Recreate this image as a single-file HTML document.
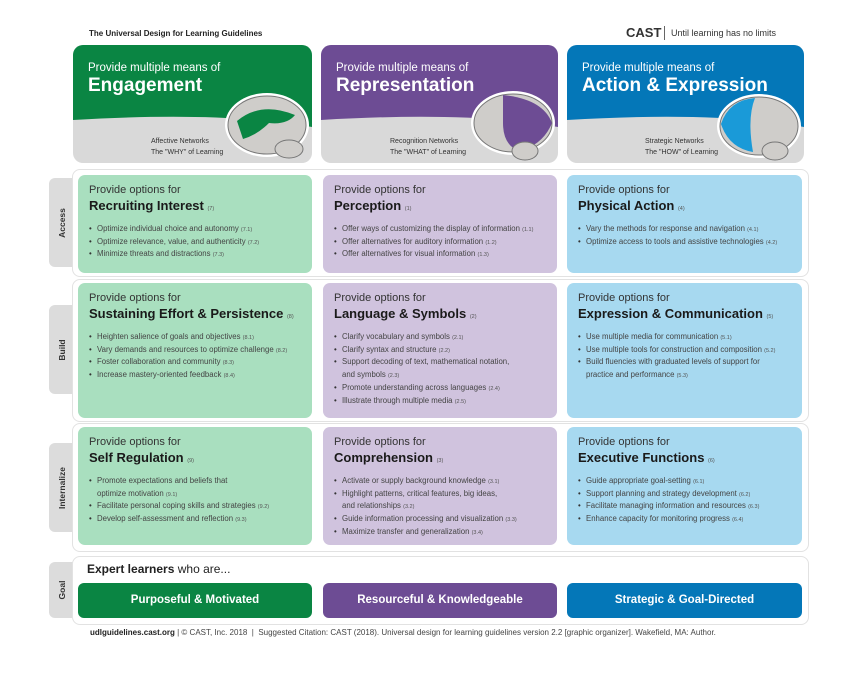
<!DOCTYPE html>
<html><head><meta charset="utf-8"><style>
*{margin:0;padding:0;box-sizing:border-box}
body{width:850px;height:680px;background:#fff;font-family:"Liberation Sans",sans-serif;position:relative;overflow:hidden;color:#333}
.a{position:absolute}
.tab{position:absolute;left:49px;width:34px;background:#dcdcdc;border-radius:6px}
.tab span{position:absolute;left:13px;top:50%;transform:translate(-50%,-50%) rotate(-90deg);font-size:8.5px;font-weight:bold;color:#333;white-space:nowrap}
.row{position:absolute;left:72px;width:737px;background:#fff;border:1.5px solid #e2e2e2;border-radius:8px}
.cell{position:absolute;border-radius:7px;padding:8px 0 0 11px}
.g{background:#a9dfbf}.p{background:#d0c3de}.b{background:#a7d9f0}
.cell .t1{font-size:11px;line-height:14px;color:#333}
.cell .t2{font-size:13px;font-weight:bold;line-height:17px;color:#1a1a1a}
.cell .t2 small{font-size:5.5px;font-weight:normal;color:#555}
.cell ul{list-style:none;margin-top:5px}
.cell li{font-size:7.8px;line-height:12.7px;height:auto;color:#444;padding-left:8px;position:relative;white-space:nowrap}
.cell li:before{content:"•";position:absolute;left:0;color:#333}
.cell li small{font-size:5.5px;color:#555;line-height:1}
.hd{position:absolute;top:45px;height:118px;border-radius:10px;overflow:hidden;background:#d9d9d9}
.hd .t1{position:absolute;left:15px;top:17px;color:#fff;font-size:11.5px}
.hd .t2{position:absolute;left:15px;top:30px;color:#fff;font-size:19px;font-weight:bold}
.hd .n{position:absolute;font-size:7px;line-height:11px;color:#333}
.goalb{position:absolute;top:583px;height:35px;border-radius:6px;color:#fff;font-weight:bold;font-size:11.5px;text-align:center;line-height:35px}
</style></head><body>
<div class="a" style="left:89px;top:29px;font-size:8px;font-weight:bold;color:#222">The Universal Design for Learning Guidelines</div>
<div class="a" style="left:626px;top:25px;font-size:13px;font-weight:bold;color:#333">CAST</div>
<div class="a" style="left:664px;top:26px;width:1px;height:14px;background:#666"></div>
<div class="a" style="left:671px;top:28px;font-size:9px;color:#333">Until learning has no limits</div>

<!-- headers -->
<div class="hd" style="left:73px;width:239px">
<svg class="a" style="left:0;top:0" width="239" height="118"><path d="M0 0H239V82Q150 66 0 75Z" fill="#0a8543"/>
<ellipse cx="194" cy="80" rx="42" ry="32" fill="#fff"/><ellipse cx="194" cy="80" rx="39" ry="29" fill="#cfcdca" stroke="#777"/><path d="M164 76Q188 56 222 70Q214 80 196 78Q184 90 170 94Z" fill="#0a8543"/><ellipse cx="216" cy="104" rx="14" ry="9" fill="#cfcdca" stroke="#777"/></svg>
<div class="t1">Provide multiple means of</div><div class="t2">Engagement</div>
<div class="n" style="left:78px;top:91px">Affective Networks<br>The "WHY" of Learning</div></div>

<div class="hd" style="left:321px;width:237px">
<svg class="a" style="left:0;top:0" width="237" height="118"><path d="M0 0H237V82Q150 66 0 75Z" fill="#6d4c94"/>
<ellipse cx="192" cy="78" rx="42" ry="32" fill="#fff"/><ellipse cx="192" cy="78" rx="39" ry="29" fill="#cfcdca" stroke="#777"/><path d="M182 50Q222 54 231 78Q222 100 198 106Q182 100 182 78Z" fill="#6d4c94"/><ellipse cx="204" cy="106" rx="13" ry="9" fill="#cfcdca" stroke="#777"/></svg>
<div class="t1">Provide multiple means of</div><div class="t2">Representation</div>
<div class="n" style="left:69px;top:91px">Recognition Networks<br>The "WHAT" of Learning</div></div>

<div class="hd" style="left:567px;width:237px">
<svg class="a" style="left:0;top:0" width="237" height="118"><path d="M0 0H237V82Q150 66 0 75Z" fill="#0477b8"/>
<ellipse cx="192" cy="81" rx="42" ry="32" fill="#fff"/><ellipse cx="192" cy="81" rx="39" ry="29" fill="#cfcdca" stroke="#777"/><path d="M154 79Q162 55 188 53Q180 73 186 107Q162 103 154 79Z" fill="#1a9ad8"/><ellipse cx="208" cy="106" rx="13" ry="9" fill="#cfcdca" stroke="#777"/></svg>
<div class="t1">Provide multiple means of</div><div class="t2">Action &amp; Expression</div>
<div class="n" style="left:78px;top:91px">Strategic Networks<br>The "HOW" of Learning</div></div>

<!-- tabs -->
<div class="tab" style="top:178px;height:89px"><span>Access</span></div>
<div class="tab" style="top:305px;height:89px"><span>Build</span></div>
<div class="tab" style="top:443px;height:89px"><span>Internalize</span></div>
<div class="tab" style="top:562px;height:56px"><span>Goal</span></div>

<div class="row" style="top:169px;height:108px"></div>
<div class="row" style="top:279px;height:143px"></div>
<div class="row" style="top:423px;height:129px"></div>
<div class="row" style="top:556px;height:69px"></div>

<!-- row1 -->
<div class="cell g" style="left:78px;top:175px;width:234px;height:98px"><div class="t1">Provide options for</div><div class="t2">Recruiting Interest <small>(7)</small></div><ul>
<li>Optimize individual choice and autonomy <small>(7.1)</small></li><li>Optimize relevance, value, and authenticity <small>(7.2)</small></li><li>Minimize threats and distractions <small>(7.3)</small></li></ul></div>
<div class="cell p" style="left:323px;top:175px;width:234px;height:98px"><div class="t1">Provide options for</div><div class="t2">Perception <small>(1)</small></div><ul>
<li>Offer ways of customizing the display of information <small>(1.1)</small></li><li>Offer alternatives for auditory information <small>(1.2)</small></li><li>Offer alternatives for visual information <small>(1.3)</small></li></ul></div>
<div class="cell b" style="left:567px;top:175px;width:235px;height:98px"><div class="t1">Provide options for</div><div class="t2">Physical Action <small>(4)</small></div><ul>
<li>Vary the methods for response and navigation <small>(4.1)</small></li><li>Optimize access to tools and assistive technologies <small>(4.2)</small></li></ul></div>

<!-- row2 -->
<div class="cell g" style="left:78px;top:283px;width:234px;height:135px"><div class="t1">Provide options for</div><div class="t2">Sustaining Effort &amp; Persistence <small>(8)</small></div><ul>
<li>Heighten salience of goals and objectives <small>(8.1)</small></li><li>Vary demands and resources to optimize challenge <small>(8.2)</small></li><li>Foster collaboration and community <small>(8.3)</small></li><li>Increase mastery-oriented feedback <small>(8.4)</small></li></ul></div>
<div class="cell p" style="left:323px;top:283px;width:234px;height:135px"><div class="t1">Provide options for</div><div class="t2">Language &amp; Symbols <small>(2)</small></div><ul>
<li>Clarify vocabulary and symbols <small>(2.1)</small></li><li>Clarify syntax and structure <small>(2.2)</small></li><li>Support decoding of text, mathematical notation,<br>and symbols <small>(2.3)</small></li><li>Promote understanding across languages <small>(2.4)</small></li><li>Illustrate through multiple media <small>(2.5)</small></li></ul></div>
<div class="cell b" style="left:567px;top:283px;width:235px;height:135px"><div class="t1">Provide options for</div><div class="t2">Expression &amp; Communication <small>(5)</small></div><ul>
<li>Use multiple media for communication <small>(5.1)</small></li><li>Use multiple tools for construction and composition <small>(5.2)</small></li><li>Build fluencies with graduated levels of support for<br>practice and performance <small>(5.3)</small></li></ul></div>

<!-- row3 -->
<div class="cell g" style="left:78px;top:427px;width:234px;height:118px"><div class="t1">Provide options for</div><div class="t2">Self Regulation <small>(9)</small></div><ul>
<li>Promote expectations and beliefs that<br>optimize motivation <small>(9.1)</small></li><li>Facilitate personal coping skills and strategies <small>(9.2)</small></li><li>Develop self-assessment and reflection <small>(9.3)</small></li></ul></div>
<div class="cell p" style="left:323px;top:427px;width:234px;height:118px"><div class="t1">Provide options for</div><div class="t2">Comprehension <small>(3)</small></div><ul>
<li>Activate or supply background knowledge <small>(3.1)</small></li><li>Highlight patterns, critical features, big ideas,<br>and relationships <small>(3.2)</small></li><li>Guide information processing and visualization <small>(3.3)</small></li><li>Maximize transfer and generalization <small>(3.4)</small></li></ul></div>
<div class="cell b" style="left:567px;top:427px;width:235px;height:118px"><div class="t1">Provide options for</div><div class="t2">Executive Functions <small>(6)</small></div><ul>
<li>Guide appropriate goal-setting <small>(6.1)</small></li><li>Support planning and strategy development <small>(6.2)</small></li><li>Facilitate managing information and resources <small>(6.3)</small></li><li>Enhance capacity for monitoring progress <small>(6.4)</small></li></ul></div>

<!-- goal -->
<div class="a" style="left:87px;top:562px;font-size:12px;color:#222"><b>Expert learners</b> who are...</div>
<div class="goalb" style="left:78px;width:234px;background:#0a8543">Purposeful &amp; Motivated</div>
<div class="goalb" style="left:323px;width:234px;background:#6d4c94">Resourceful &amp; Knowledgeable</div>
<div class="goalb" style="left:567px;width:235px;background:#0477b8">Strategic &amp; Goal-Directed</div>

<div class="a" style="left:90px;top:628px;font-size:8px;color:#444;white-space:nowrap"><b style="color:#222">udlguidelines.cast.org</b> | © CAST, Inc. 2018 &nbsp;| &nbsp;Suggested Citation: CAST (2018). Universal design for learning guidelines version 2.2 [graphic organizer]. Wakefield, MA: Author.</div>
</body></html>
